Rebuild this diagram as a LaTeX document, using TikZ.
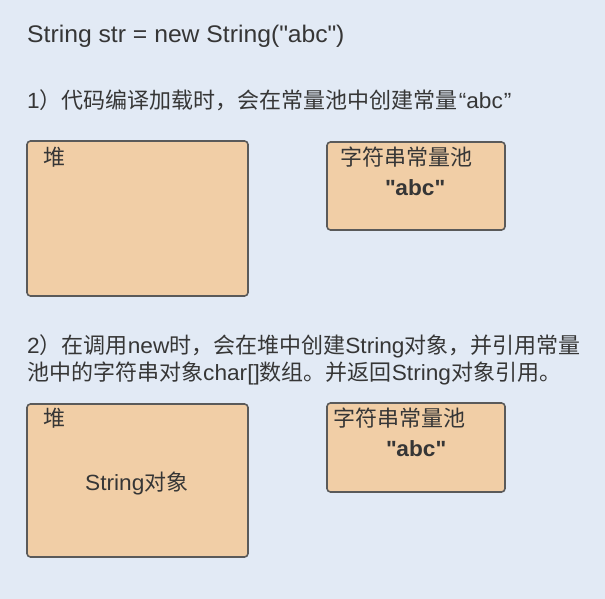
\documentclass[tikz,border=0pt]{standalone}
\usepackage{fontspec}
\setmainfont{Liberation Sans}[FakeStretch=1.03]
\newfontfamily\cjk{Noto Sans CJK SC}
\definecolor{bgblue}{HTML}{E2EAF5}
\definecolor{peach}{HTML}{F1CEA6}
\definecolor{edgegray}{HTML}{5A5A5A}
\definecolor{txtgray}{HTML}{363636}

\begin{document}
\begin{tikzpicture}[x=1pt, y=-1pt,
    box/.style={draw=edgegray, fill=peach, line width=1.6pt, rounded corners=3.5pt, inner sep=0pt},
    txt/.style={text=txtgray, inner sep=0pt, font=\fontsize{22}{27}\selectfont}]

    \fill[bgblue] (0,0) rectangle (605,599);
    \useasboundingbox (0,0) rectangle (605,599);

    % code line and the two steps
    \node[txt, anchor=base west, font=\fontsize{24}{27}\selectfont] at (27,43) (code) {String str = new String(\textquotedbl abc\textquotedbl)};
    \node[txt, anchor=base west] at (27,109) (stepA) {1{\cjk ）代码编译加载时，会在常量池中创建常量}\kern1pt“abc\kern1pt”};
    \node[txt, anchor=base west, align=left] at (27,380) (stepB) {2{\cjk ）在调用}new{\cjk 时，会在堆中创建}String{\cjk 对象，并引用常量}\\{\cjk 池中的字符串对象}char[]{\cjk 数组。并返回}String{\cjk 对象引用。}};

    % step 1
    \node[box, minimum width=221pt, minimum height=155pt] at (137.5,218.5) (heapA) {};
    \node[box, minimum width=178pt, minimum height=88pt] at (416,186) (poolA) {};
    \node[txt, anchor=base west] at (43,165) (heapAlbl) {\cjk 堆};
    \node[txt, anchor=base west] at (340,165) (poolAlbl) {\cjk 字符串常量池};
    \node[txt, anchor=base, font=\fontsize{22}{27}\selectfont\bfseries] at (415,195) (abcA) {\textquotedbl abc\textquotedbl};

    % step 2
    \node[box, minimum width=221pt, minimum height=153pt] at (137.5,480.5) (heapB) {};
    \node[box, minimum width=178pt, minimum height=89pt] at (416,447.5) (poolB) {};
    \node[txt, anchor=base west] at (43,426) (heapBlbl) {\cjk 堆};
    \node[txt, anchor=base west] at (333,426) (poolBlbl) {\cjk 字符串常量池};
    \node[txt, anchor=base, font=\fontsize{22}{27}\selectfont\bfseries] at (416,456) (abcB) {\textquotedbl abc\textquotedbl};
    \node[txt, anchor=base west] at (85,490) (strobj) {String{\cjk 对象}};

\end{tikzpicture}
\end{document}
